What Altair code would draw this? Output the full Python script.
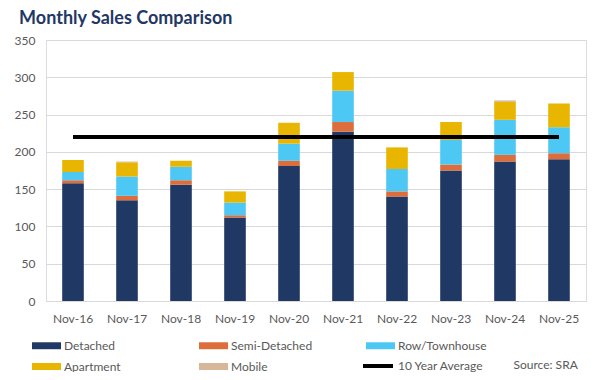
import altair as alt
import pandas as pd

months = ["Nov-16", "Nov-17", "Nov-18", "Nov-19", "Nov-20",
          "Nov-21", "Nov-22", "Nov-23", "Nov-24", "Nov-25"]
detached = [158, 135, 156, 112, 181, 227, 140, 175, 187, 190]
semi_detached = [4, 6, 6, 3, 7, 13, 7, 8, 9, 8]
row_townhouse = [11, 26, 18, 17, 23, 42, 30, 33, 47, 35]
apartment = [16, 19, 8, 15, 28, 25, 29, 24, 24, 32]
mobile = [0, 1, 0, 0, 0, 0, 0, 0, 2, 0]
ten_year_average = 220

types = ["Detached", "Semi-Detached", "Row/Townhouse", "Apartment", "Mobile"]
colors = ["#203864", "#DD6E3C", "#4DC8F4", "#E8B600", "#D6B79A"]

rows = []
for i, (t, vals) in enumerate(zip(types, [detached, semi_detached, row_townhouse, apartment, mobile])):
    for m, v in zip(months, vals):
        rows.append({"month": m, "type": t, "value": v, "order": i})
bars_df = pd.DataFrame(rows)
avg_df = pd.DataFrame({"month": months,
                       "value": [ten_year_average] * len(months),
                       "series": ["10 Year Average"] * len(months)})

FONT = "Lato"
LABEL = "#595959"

x_enc = alt.X(
    "month:N", sort=months,
    scale=alt.Scale(paddingInner=0.6, paddingOuter=0.3),
    axis=alt.Axis(title="Source: SRA", titleX=467, titleY=63, titleAlign="left",
                  titleBaseline="middle", titleFont=FONT, titleFontSize=12,
                  titleFontWeight="normal", titleColor=LABEL,
                  labelAngle=0, labelPadding=12, labelFont=FONT, labelFontSize=12,
                  labelColor=LABEL, ticks=False, domain=False, grid=False),
)
y_scale = alt.Scale(domain=[0, 350], nice=False)
y_axis = alt.Axis(title=None, values=list(range(0, 351, 50)), grid=True,
                  gridColor="#D9D9D9", ticks=False, domain=False,
                  labelPadding=11, labelFont=FONT, labelFontSize=12, labelColor=LABEL)

rect_path = "M-1,-0.24H1V0.24H-1Z"

bars = alt.Chart(bars_df).mark_bar().encode(
    x=x_enc,
    y=alt.Y("value:Q", stack="zero", scale=y_scale, axis=y_axis),
    color=alt.Color("type:N", sort=types,
                    scale=alt.Scale(domain=types, range=colors),
                    legend=alt.Legend(title=None, orient="none", legendX=-14, legendY=291,
                                      direction="horizontal", columns=3, gridAlign="all",
                                      columnPadding=46, rowPadding=-10, padding=0,
                                      symbolType=rect_path, symbolSize=841,
                                      symbolStrokeWidth=0, labelOffset=3,
                                      labelFont=FONT, labelFontSize=12, labelColor=LABEL)),
    order=alt.Order("order:Q", sort="ascending"),
)

line = alt.Chart(avg_df).mark_line(strokeWidth=4, strokeCap="butt").encode(
    x=x_enc,
    y=alt.Y("value:Q", scale=y_scale, axis=y_axis),
    color=alt.Color("series:N", scale=alt.Scale(domain=["10 Year Average"], range=["#000000"]),
                    legend=alt.Legend(title=None, orient="none", legendX=315, legendY=309,
                                      padding=0, symbolType="stroke", symbolSize=900,
                                      symbolStrokeWidth=4, labelOffset=3,
                                      labelFont=FONT, labelFontSize=12, labelColor=LABEL)),
)

chart = alt.layer(bars, line).resolve_scale(color="independent").properties(
    width=540, height=261,
    autosize=alt.AutoSizeParams(type="none"),
    padding={"left": 38, "top": 32, "right": 9, "bottom": 71},
    title=alt.TitleParams("Monthly Sales Comparison", anchor="start", dx=5, offset=6,
                          font=FONT, fontSize=18, fontWeight="bold", color="#1F3864"),
).configure_view(stroke=None).configure(background="white")

chart.save("out.html", embed_options={"renderer": "svg", "actions": False})
